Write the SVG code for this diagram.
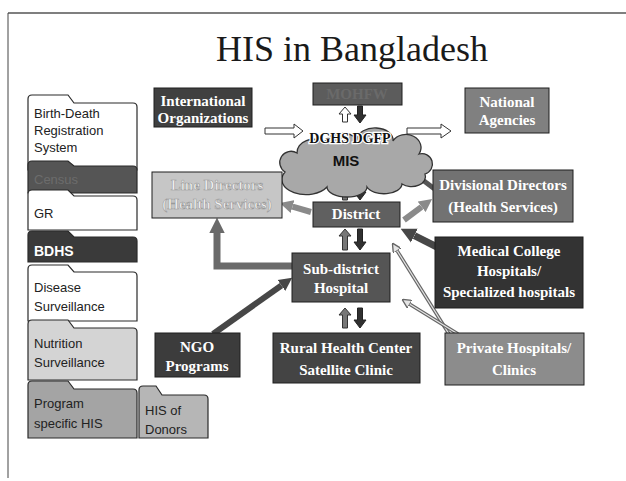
<svg xmlns="http://www.w3.org/2000/svg" width="626" height="481" viewBox="0 0 626 481">
  <style>
    .lbl { font-family: "Liberation Serif", "Times New Roman", serif; font-weight: bold; font-size: 15px; fill: #ffffff; text-anchor: middle; }
    .side { font-family: "Liberation Sans", Arial, sans-serif; font-size: 13px; fill: #222222; }
    .box { stroke: #1e1e1e; stroke-width: 1; }
    .fold { stroke: #2a2a2a; stroke-width: 1.2; }
    .hollow { fill: #ffffff; stroke: #333333; stroke-width: 1; }
    .solid { fill: #303030; stroke: #222222; stroke-width: 1; }
    .mid { fill: #777777; stroke: #333333; stroke-width: 1; }
  </style>
  <defs>
    <marker id="headGray" viewBox="0 0 10 10" refX="0" refY="5" markerWidth="2.2" markerHeight="2.4" orient="auto">
      <path d="M0,0 L10,5 L0,10 Z" fill="#8a8a8a"/>
    </marker>
    <marker id="headDark" viewBox="0 0 10 10" refX="0" refY="5" markerWidth="2.2" markerHeight="2.4" orient="auto">
      <path d="M0,0 L10,5 L0,10 Z" fill="#474747"/>
    </marker>
    <marker id="headMid" viewBox="0 0 10 10" refX="0" refY="5" markerWidth="2.2" markerHeight="2.4" orient="auto">
      <path d="M0,0 L10,5 L0,10 Z" fill="#6a6a6a"/>
    </marker>
    <marker id="headThin" viewBox="0 0 10 10" refX="0" refY="5" markerWidth="2.6" markerHeight="2.6" orient="auto">
      <path d="M0,0 L10,5 L0,10 Z" fill="#e4e4e4" stroke="#666" stroke-width="1.5"/>
    </marker>
  </defs>

  <rect width="626" height="481" fill="#ffffff"/>

  <!-- slide frame -->
  <line x1="8" y1="13" x2="626" y2="13" stroke="#555" stroke-width="1.5"/>
  <line x1="8" y1="13" x2="8" y2="478" stroke="#444" stroke-width="1"/>

  <text x="352" y="61" font-family="Liberation Serif, Times New Roman, serif" font-size="36" fill="#1a1a1a" text-anchor="middle">HIS in Bangladesh</text>

  <!-- side folders -->
  <g id="birth-death">
    <path class="fold" fill="#ffffff" d="M28,170 V99 Q28,95 32,95 H68 L74,103 H133 Q137,103 137,107 V170 Z"/>
    <text class="side" x="34" y="118">Birth-Death</text>
    <text class="side" x="34" y="135">Registration</text>
    <text class="side" x="34" y="152">System</text>
  </g>
  <g id="census">
    <path class="fold" fill="#555555" d="M28,193 V165 Q28,161 32,161 H68 L74,166 H133 Q137,166 137,170 V193 Z"/>
    <text class="side" x="34" y="184" style="fill:#6c6c6c">Census</text>
  </g>
  <g id="gr">
    <path class="fold" fill="#ffffff" d="M28,230 V194 Q28,190 32,190 H68 L74,196 H133 Q137,196 137,200 V230 Z"/>
    <text class="side" x="34" y="218">GR</text>
  </g>
  <g id="bdhs">
    <path class="fold" fill="#3a3a3a" d="M28,262 V235 Q28,231 32,231 H68 L74,237 H133 Q137,237 137,241 V262 Z"/>
    <text class="side" x="34" y="256" style="fill:#ffffff;font-weight:bold;font-size:14px">BDHS</text>
  </g>
  <g id="disease">
    <path class="fold" fill="#ffffff" d="M28,321 V269 Q28,265 32,265 H68 L74,272 H133 Q137,272 137,276 V321 Z"/>
    <text class="side" x="34" y="292">Disease</text>
    <text class="side" x="34" y="311">Surveillance</text>
  </g>
  <g id="nutrition">
    <path class="fold" fill="#d4d4d4" d="M28,380 V324 Q28,320 32,320 H68 L74,328 H133 Q137,328 137,332 V380 Z"/>
    <text class="side" x="34" y="348">Nutrition</text>
    <text class="side" x="34" y="367">Surveillance</text>
  </g>
  <g id="program-his">
    <path class="fold" fill="#a4a4a4" d="M28,438 V385 Q28,381 32,381 H68 L74,389 H133 Q137,389 137,393 V438 Z"/>
    <text class="side" x="34" y="408">Program</text>
    <text class="side" x="34" y="428">specific HIS</text>
  </g>
  <g id="donors-his">
    <path class="fold" fill="#b6b6b6" d="M139,438 V390 Q139,386 143,386 H156 L162,395 H204 Q208,395 208,399 V438 Z"/>
    <text class="side" x="145" y="415">HIS of</text>
    <text class="side" x="145" y="434">Donors</text>
  </g>

  <!-- connectors -->
  <g id="connectors">
    <!-- block arrows -->
    <polygon class="hollow" points="265,128 294,128 294,124 303,131 294,138 294,134 265,134"/>
    <polygon class="hollow" points="407,128 441,128 441,124 451,131 441,138 441,134 407,134"/>
    <polygon class="hollow" points="345,107 351,114 347.5,114 347.5,122 342.5,122 342.5,114 339,114"/>
    <polygon class="solid" points="357.5,106 362.5,106 362.5,115 366,115 360,123 354,115 357.5,115"/>
    <polygon class="mid" points="345,182 351,189 347.5,189 347.5,200 342.5,200 342.5,189 339,189"/>
    <polygon class="solid" points="357.5,181 362.5,181 362.5,192 366,192 360,200 354,192 357.5,192"/>
    <polygon class="mid" points="345,229 351,236 347.5,236 347.5,250 342.5,250 342.5,236 339,236"/>
    <polygon class="solid" points="357.5,229 362.5,229 362.5,242 366,242 360,250 354,242 357.5,242"/>
    <polygon class="mid" points="345,308 351,315 347.5,315 347.5,328 342.5,328 342.5,315 339,315"/>
    <polygon class="solid" points="357.5,308 362.5,308 362.5,320 366,320 360,328 354,320 357.5,320"/>

    <!-- thick connectors -->
    <line x1="396" y1="160" x2="436" y2="190" stroke="#555" stroke-width="5"/>
    <line x1="311" y1="212" x2="292.5" y2="206.6" stroke="#8a8a8a" stroke-width="6" marker-end="url(#headGray)"/>
    <line x1="404" y1="220" x2="421.6" y2="206.8" stroke="#8a8a8a" stroke-width="6" marker-end="url(#headGray)"/>
    <line x1="437" y1="247" x2="414.4" y2="235.7" stroke="#474747" stroke-width="7" marker-end="url(#headDark)"/>
    <line x1="213" y1="334" x2="281.4" y2="285.5" stroke="#474747" stroke-width="6" marker-end="url(#headDark)"/>
    <path d="M293,266 H217 V233" fill="none" stroke="#6a6a6a" stroke-width="7" marker-end="url(#headMid)"/>

    <!-- thin outlined arrows -->
    <line x1="449" y1="334" x2="397.2" y2="250.8" stroke="#666" stroke-width="3.5" marker-end="url(#headThin)"/>
    <line x1="449" y1="334" x2="397.2" y2="250.8" stroke="#e4e4e4" stroke-width="1.2"/>
    <line x1="458" y1="334" x2="409.8" y2="304.2" stroke="#666" stroke-width="3.5" marker-end="url(#headThin)"/>
    <line x1="458" y1="334" x2="409.8" y2="304.2" stroke="#e4e4e4" stroke-width="1.2"/>
  </g>

  <!-- nodes -->
  <g id="intl-orgs">
    <rect class="box" x="154" y="88" width="98" height="39" fill="#404040"/>
    <text class="lbl" x="203" y="106">International</text>
    <text class="lbl" x="203" y="123">Organizations</text>
  </g>
  <g id="mohfw">
    <rect class="box" x="313" y="83" width="89" height="22" fill="#5c5c5c"/>
    <text class="lbl" x="357" y="99" style="fill:#6a6a6a">MOHFW</text>
  </g>
  <g id="national-agencies">
    <rect class="box" x="465" y="88" width="84" height="45" fill="#808080"/>
    <text class="lbl" x="507" y="107">National</text>
    <text class="lbl" x="507" y="125">Agencies</text>
  </g>
  <g id="dghs-mis">
    <path d="M285,172 a11,11 0 0,1 12,-19 a16,13 0 0,1 27,-10 a18,12 0 0,1 33,-4 a18,12 0 0,1 36,2 a15,13 0 0,1 26,13 a10,10 0 0,1 6,20 a14,10 0 0,1 -23,10 a18,10 0 0,1 -35,3 a20,10 0 0,1 -40,0 a16,10 0 0,1 -42,-15 Z" fill="#a8a8a8" stroke="#333" stroke-width="1.3"/>
    <text x="350" y="143" font-family="Liberation Serif, serif" font-weight="bold" font-size="14" fill="#111" text-anchor="middle" stroke="#ffffff" stroke-width="2.5" paint-order="stroke">DGHS DGFP</text>
    <text x="346" y="166" font-family="Liberation Sans, Arial, sans-serif" font-weight="bold" font-size="15" fill="#111" text-anchor="middle">MIS</text>
  </g>
  <g id="line-directors">
    <rect class="box" x="152" y="172" width="130" height="46" fill="#c6c6c6" stroke="#aaa"/>
    <text class="lbl" x="217" y="190" style="fill:#f2f2f2" stroke="#9a9a9a" stroke-width="0.6">Line Directors</text>
    <text class="lbl" x="217" y="209" style="fill:#f2f2f2" stroke="#9a9a9a" stroke-width="0.6">(Health Services)</text>
  </g>
  <g id="district">
    <rect class="box" x="313" y="202" width="87" height="25" fill="#606060"/>
    <text class="lbl" x="356" y="219">District</text>
  </g>
  <g id="divisional-directors">
    <rect class="box" x="433" y="170" width="140" height="52" fill="#727272"/>
    <text class="lbl" x="503" y="190">Divisional Directors</text>
    <text class="lbl" x="503" y="212">(Health Services)</text>
  </g>
  <g id="medical-college">
    <rect class="box" x="435" y="237" width="148" height="71" fill="#333333"/>
    <text class="lbl" x="509" y="256">Medical College</text>
    <text class="lbl" x="509" y="276">Hospitals/</text>
    <text class="lbl" x="509" y="297">Specialized hospitals</text>
  </g>
  <g id="sub-district">
    <rect class="box" x="292" y="253" width="98" height="49" fill="#555555"/>
    <text class="lbl" x="341" y="274">Sub-district</text>
    <text class="lbl" x="341" y="293">Hospital</text>
  </g>
  <g id="ngo-programs">
    <rect class="box" x="155" y="333" width="85" height="44" fill="#3c3c3c"/>
    <text class="lbl" x="197" y="352">NGO</text>
    <text class="lbl" x="197" y="371">Programs</text>
  </g>
  <g id="rural-health">
    <rect class="box" x="273" y="333" width="147" height="50" fill="#444444"/>
    <text class="lbl" x="346" y="353">Rural Health Center</text>
    <text class="lbl" x="346" y="375">Satellite Clinic</text>
  </g>
  <g id="private-hospitals">
    <rect class="box" x="445" y="333" width="139" height="52" fill="#8c8c8c"/>
    <text class="lbl" x="514" y="353">Private Hospitals/</text>
    <text class="lbl" x="514" y="375">Clinics</text>
  </g>
</svg>
